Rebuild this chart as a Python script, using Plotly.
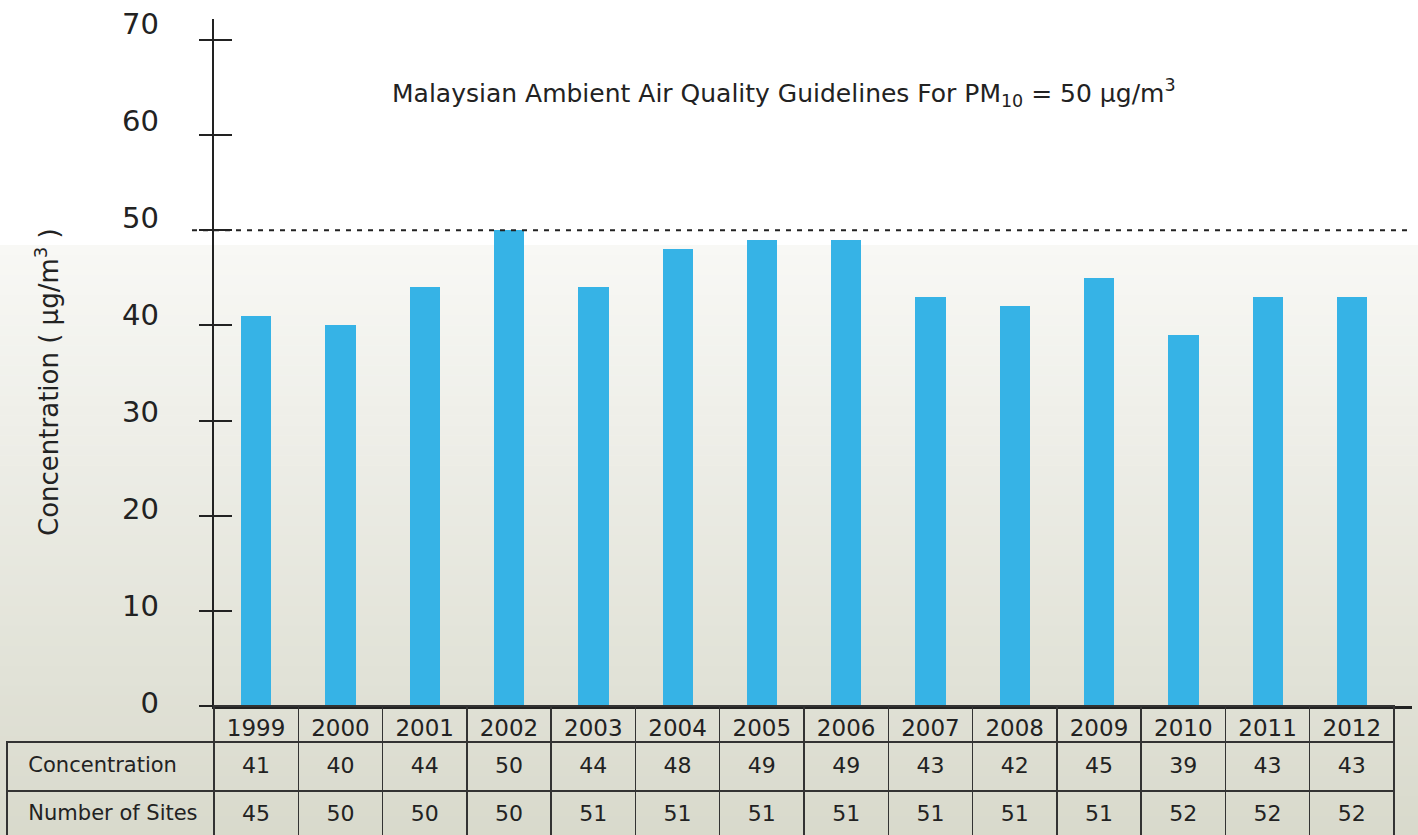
import plotly.graph_objects as go

years = ["1999", "2000", "2001", "2002", "2003", "2004", "2005",
         "2006", "2007", "2008", "2009", "2010", "2011", "2012"]
concentration = [41, 40, 44, 50, 44, 48, 49, 49, 43, 42, 45, 39, 43, 43]
num_sites = [45, 50, 50, 50, 51, 51, 51, 51, 51, 51, 51, 52, 52, 52]
row_labels = ["Concentration", "Number of Sites"]
y_ticks = [0, 10, 20, 30, 40, 50, 60, 70]
guideline = 50

FONT = "'DejaVu Sans', sans-serif"
INK = "#222222"
CLEAR = "rgba(0,0,0,0)"
W, H = 1418, 846   # figure slightly taller than the window: table runs off the bottom


def px(x):
    return x / W


def py(y):
    return (H - y) / H


fig = go.Figure()

idx = list(range(len(years)))
fig.add_trace(go.Bar(
    x=idx, y=concentration, width=0.36,
    marker=dict(color="#36b3e6", line=dict(width=0)),
    showlegend=False, hoverinfo="x+y",
))
# invisible traces for the overlay axes (inner tick halves, tick labels)
fig.add_trace(go.Scatter(x=[None], y=[None], yaxis="y2", showlegend=False,
                         hoverinfo="skip"))
fig.add_trace(go.Scatter(x=[None], y=[None], yaxis="y3", showlegend=False,
                         hoverinfo="skip"))

ncol = len(years) + 1
col_w = [207] + [84.3] * len(years)
label_col = ["\u00a0\u00a0" + s.replace(" ", "\u00a0") for s in row_labels]

# data table below the chart: grid lines
fig.add_trace(go.Table(
    domain=dict(x=[px(7), px(1394)], y=[0, py(706)]),
    columnwidth=col_w,
    header=dict(
        values=[""] * ncol, height=36,
        fill=dict(color=CLEAR),
        line=dict(color=[CLEAR] + ["#333333"] * len(years), width=1.5),
    ),
    cells=dict(
        values=[["", ""]] * ncol, height=49,
        fill=dict(color=CLEAR),
        line=dict(color="#333333", width=1.5),
    ),
    hoverinfo="skip",
))
# data table: text (vertically nudged to sit centred in the cells)
fig.add_trace(go.Table(
    domain=dict(x=[px(7), px(1394)], y=[0, py(711)]),
    columnwidth=col_w,
    header=dict(
        values=[""] + years, height=37, align="center",
        fill=dict(color=CLEAR), line=dict(color=CLEAR, width=0),
        font=dict(family=FONT, size=23, color=INK),
    ),
    cells=dict(
        values=[label_col] + [[c, n] for c, n in zip(concentration, num_sites)],
        height=48,
        align=["left"] + ["center"] * len(years),
        fill=dict(color=CLEAR), line=dict(color=CLEAR, width=0),
        font=dict(family=FONT, size=[21] + [22] * len(years), color=INK),
    ),
))

# gradient background strips
shapes = [dict(type="rect", xref="paper", yref="paper", x0=0, x1=1,
               y0=py(245), y1=1, fillcolor="#ffffff", line=dict(width=0),
               layer="below")]
n = 60
top, bot = 245, H
c0 = (248, 248, 245)
c1 = (216, 217, 203)
for k in range(n):
    ya = top + (bot - top) * k / n
    yb = top + (bot - top) * (k + 1) / n
    t = (k + 0.5) / n
    col = tuple(round(c0[j] + (c1[j] - c0[j]) * t) for j in range(3))
    shapes.append(dict(type="rect", xref="paper", yref="paper", x0=0, x1=1,
                       y0=py(yb + 0.5), y1=py(ya),
                       fillcolor="rgb(%d,%d,%d)" % col, line=dict(width=0),
                       layer="below"))
# guideline dashed line
shapes.append(dict(type="line", xref="paper", yref="y",
                   x0=px(192), x1=px(1412), y0=guideline, y1=guideline,
                   line=dict(color=INK, width=2, dash="5px,6px"), layer="above"))

YDOM = [py(706), py(19)]
fig.update_layout(
    width=W, height=H,
    margin=dict(l=0, r=0, t=0, b=0, pad=0),
    paper_bgcolor="#ffffff",
    plot_bgcolor=CLEAR,
    font=dict(family=FONT, color=INK),
    bargap=0,
    shapes=shapes,
    xaxis=dict(domain=[px(214), px(1412)], range=[-0.5, 13.71],
               showgrid=False, zeroline=False, showticklabels=False, ticks="",
               showline=True, linecolor=INK, linewidth=3, fixedrange=True,
               automargin=False),
    # main axis: line + outer tick halves
    yaxis=dict(domain=YDOM, range=[0, 72.2], tickvals=y_ticks,
               showgrid=False, zeroline=False, showline=True, linecolor=INK,
               linewidth=2, ticks="outside", ticklen=13, tickwidth=2,
               tickcolor=INK, showticklabels=False, automargin=False),
    # inner tick halves (ticks cross the axis line)
    yaxis2=dict(domain=YDOM, range=[0, 72.2], overlaying="y",
                side="left", tickvals=y_ticks[1:], showgrid=False,
                zeroline=False, showline=False, ticks="inside", ticklen=18,
                tickwidth=2, tickcolor=INK, showticklabels=False,
                automargin=False),
    # tick labels, set slightly above their ticks as in the original artwork
    yaxis3=dict(domain=YDOM, range=[-0.35, 70.53], overlaying="y",
                side="left", tickvals=y_ticks, showgrid=False,
                zeroline=False, showline=False, ticks="",
                ticklabelstandoff=54, automargin=False,
                tickfont=dict(family=FONT, size=29, color=INK)),
    annotations=[
        dict(text="Malaysian Ambient Air Quality Guidelines For PM<sub>10</sub> = 50 µg/m<sup>3</sup>",
             xref="paper", yref="paper", x=px(784), y=py(93),
             xanchor="center", yanchor="middle", showarrow=False,
             font=dict(family=FONT, size=25, color=INK)),
        dict(text="Concentration ( µg/m<sup>3</sup> )",
             xref="paper", yref="paper", x=px(47), y=py(382),
             xanchor="center", yanchor="middle", textangle=-90,
             showarrow=False, font=dict(family=FONT, size=26, color=INK)),
    ],
)

post = (
    "document.documentElement.style.margin='0';"
    "document.body.style.margin='0';"
    "document.documentElement.style.overflow='hidden';"
    "document.body.style.overflow='hidden';"
    "var g=document.getElementById('{plot_id}');"
    "g.style.position='fixed';g.style.left='0px';g.style.top='0px';"
)

fig.write_html("out.html", config={"displayModeBar": False}, post_script=post)
